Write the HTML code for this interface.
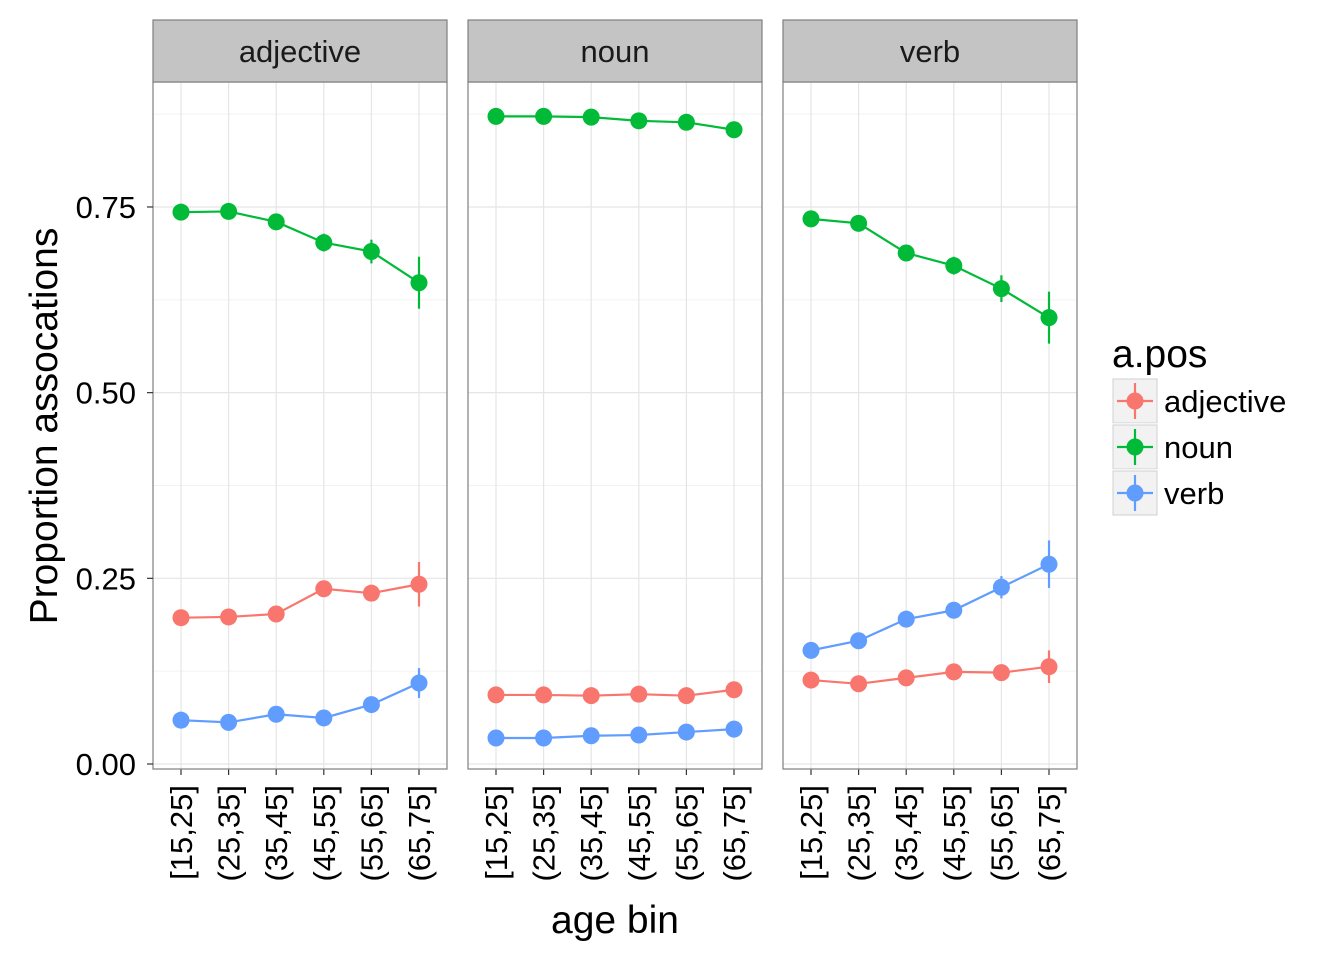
<!DOCTYPE html>
<html><head><meta charset="utf-8"><style>
body{margin:0;background:#fff}
svg text{font-family:"Liberation Sans",Arial,sans-serif}
</style></head><body>
<svg id="c" width="1344" height="960" xmlns="http://www.w3.org/2000/svg"></svg>
<script>
const facets=["adjective","noun","verb"];
const categories=["[15,25]","(25,35]","(35,45]","(45,55]","(55,65]","(65,75]"];
const series=["adjective","noun","verb"];
const colors=["#F8766D","#00BA38","#619CFF"];
const adjAdj=[0.197,0.198,0.202,0.236,0.230,0.242];
const adjNoun=[0.743,0.744,0.730,0.702,0.690,0.648];
const adjVerb=[0.059,0.056,0.067,0.062,0.080,0.109];
const nounAdj=[0.093,0.093,0.092,0.094,0.092,0.100];
const nounNoun=[0.872,0.872,0.871,0.866,0.864,0.854];
const nounVerb=[0.035,0.035,0.038,0.039,0.043,0.047];
const verbAdj=[0.113,0.108,0.116,0.124,0.123,0.131];
const verbNoun=[0.734,0.728,0.688,0.671,0.640,0.601];
const verbVerb=[0.153,0.166,0.195,0.207,0.238,0.269];
const adjErr=[[0.006,0.006,0.007,0.008,0.010,0.030],[0.006,0.006,0.007,0.012,0.016,0.035],[0.004,0.004,0.005,0.006,0.008,0.020]];
const nounErr=[[0.003,0.003,0.003,0.003,0.004,0.005],[0.003,0.003,0.003,0.004,0.004,0.006],[0.002,0.002,0.002,0.003,0.003,0.004]];
const verbErr=[[0.006,0.006,0.007,0.008,0.010,0.022],[0.006,0.006,0.009,0.012,0.018,0.035],[0.006,0.007,0.008,0.010,0.015,0.032]];
const yTicks=[0,0.25,0.5,0.75];
const yTickLabels=["0.00","0.25","0.50","0.75"];
const data=[[adjAdj,adjNoun,adjVerb],[nounAdj,nounNoun,nounVerb],[verbAdj,verbNoun,verbVerb]];
const errs=[adjErr,nounErr,verbErr];

const svg=document.getElementById('c');
const NS="http://www.w3.org/2000/svg";
function mk(t,a,p){const e=document.createElementNS(NS,t);for(const k in a)e.setAttribute(k,a[k]);(p||svg).appendChild(e);return e;}
const panelX=[153,468,783], panelW=294, pTop=82, pBot=769, stripTop=20;
const y=v=>764-v*742.7;
const x=(p,i)=>panelX[p]+28+i*47.6;

facets.forEach((f,p)=>{
  const g=mk('g',{});
  
  
  mk('rect',{x:panelX[p],y:pTop,width:panelW,height:pBot-pTop,fill:'#fff'},g);
  for(let v=0.125;v<0.9;v+=0.25) mk('line',{x1:panelX[p],x2:panelX[p]+panelW,y1:y(v),y2:y(v),stroke:'#f2f2f2','stroke-width':1},g);
  yTicks.forEach(v=>mk('line',{x1:panelX[p],x2:panelX[p]+panelW,y1:y(v),y2:y(v),stroke:'#e5e5e5','stroke-width':1.2},g));
  categories.forEach((c,i)=>{
    mk('line',{x1:x(p,i),x2:x(p,i),y1:pTop,y2:pBot,stroke:'#e5e5e5','stroke-width':1.2},g);
    mk('line',{x1:x(p,i),x2:x(p,i),y1:pBot,y2:pBot+6,stroke:'#333','stroke-width':1.2},g);
    const t=mk('text',{x:0,y:0,transform:`translate(${x(p,i)+11},${pBot+16}) rotate(-90)`,'text-anchor':'end','font-size':31,fill:'#000'},g);
    t.textContent=c;
    
    
  });
  mk('rect',{x:panelX[p],y:pTop,width:panelW,height:pBot-pTop,fill:'none',stroke:'#7f7f7f','stroke-width':1.2},g);
  const s=mk('rect',{x:panelX[p],y:stripTop,width:panelW,height:pTop-stripTop,fill:'#c4c4c4',stroke:'#7f7f7f','stroke-width':1.2},g);
  
  
  const st=mk('text',{x:panelX[p]+panelW/2,y:62,'text-anchor':'middle','font-size':31,fill:'#1a1a1a'},g);
  st.textContent=f;
  
  
  series.forEach((sn,si)=>{
    const vals=data[p][si], er=errs[p][si];
    const line=mk('polyline',{points:vals.map((v,i)=>x(p,i)+','+y(v)).join(' '),fill:'none',stroke:colors[si],'stroke-width':2.2},g);
    
    
    vals.forEach((v,i)=>{
      mk('line',{x1:x(p,i),x2:x(p,i),y1:y(v-er[i]),y2:y(v+er[i]),stroke:colors[si],'stroke-width':2.2},g);
      const c=mk('circle',{cx:x(p,i),cy:y(v),r:8.5,fill:colors[si]},g);
      
      
    });
  });
});
yTicks.forEach((v,i)=>{
  mk('line',{x1:147,x2:153,y1:y(v),y2:y(v),stroke:'#333','stroke-width':1.2});
  const t=mk('text',{x:136,y:y(v)+11,'text-anchor':'end','font-size':31,fill:'#000'});
  t.textContent=yTickLabels[i];
  
  
});
const yt=mk('text',{transform:'translate(57,426) rotate(-90)','text-anchor':'middle','font-size':39,fill:'#000'});
yt.textContent='Proportion assocations';


const xt=mk('text',{x:615,y:933,'text-anchor':'middle','font-size':39,fill:'#000'});
xt.textContent='age bin';


const lg=mk('g',{});


const lt=mk('text',{x:1112,y:367,'font-size':39,fill:'#000'},lg);
lt.textContent='a.pos';
series.forEach((sn,i)=>{
  const ky=378+i*46;
  mk('rect',{x:1112,y:ky,width:46,height:46,fill:'#f2f2f2',stroke:'#fff','stroke-width':1.5},lg);
  mk('rect',{x:1113,y:ky+1,width:44,height:44,fill:'none',stroke:'#d0d0d0','stroke-width':1},lg);
  mk('line',{x1:1117,x2:1153,y1:ky+23,y2:ky+23,stroke:colors[i],'stroke-width':2.2},lg);
  mk('line',{x1:1135,x2:1135,y1:ky+5,y2:ky+41,stroke:colors[i],'stroke-width':2.2},lg);
  mk('circle',{cx:1135,cy:ky+23,r:8.5,fill:colors[i]},lg);
  const t=mk('text',{x:1164,y:ky+34,'font-size':31,fill:'#000'},lg);
  t.textContent=sn;
  
  
});
</script>
</body></html>
